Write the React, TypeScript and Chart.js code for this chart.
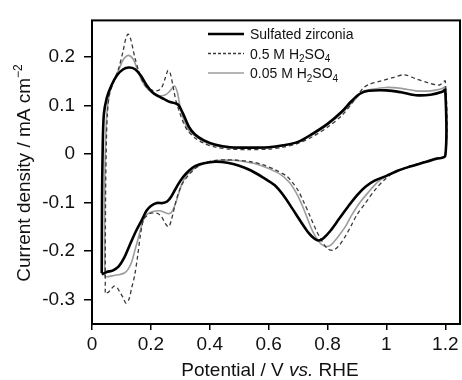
import React, { useEffect, useRef } from "react";
import { Chart, registerables } from "chart.js";

Chart.register(...registerables);

// ---- Data ----
const xTicks = [0, 0.2, 0.4, 0.6, 0.8, 1, 1.2];
const yTicks = [-0.3, -0.2, -0.1, 0, 0.1, 0.2];

const legendLabels = ["Sulfated zirconia", "0.5 M H2SO4", "0.05 M H2SO4"];

// Sulfated zirconia: anodic sweep then cathodic sweep
const szE = [
  0.033, 0.034, 0.036, 0.04, 0.05, 0.065, 0.085, 0.105, 0.125, 0.145, 0.165, 0.185, 0.205, 0.225, 0.245, 0.265,
  0.285, 0.295, 0.31, 0.33, 0.35, 0.38, 0.42, 0.47, 0.53, 0.6, 0.65, 0.7, 0.75, 0.8, 0.85, 0.88, 0.91, 0.94, 1.0,
  1.05, 1.1, 1.15, 1.19, 1.2,
  1.2, 1.17, 1.13, 1.08, 1.04, 1.0, 0.96, 0.93, 0.9, 0.87, 0.84, 0.81, 0.785, 0.77, 0.755, 0.735, 0.71, 0.68, 0.65,
  0.62, 0.58, 0.54, 0.5, 0.46, 0.42, 0.38, 0.35, 0.33, 0.31, 0.29, 0.27, 0.255, 0.24, 0.22, 0.2, 0.185, 0.17, 0.15,
  0.13, 0.11, 0.09, 0.07, 0.05, 0.033,
];
const szI = [
  -0.245, -0.1, 0.0, 0.08, 0.115, 0.14, 0.162, 0.174, 0.178, 0.175, 0.162, 0.142, 0.127, 0.119, 0.113, 0.107,
  0.104, 0.1, 0.082, 0.055, 0.04, 0.028, 0.019, 0.014, 0.013, 0.014, 0.018, 0.025, 0.042, 0.062, 0.088, 0.108,
  0.124, 0.13, 0.131, 0.127, 0.121, 0.122, 0.128, 0.132,
  -0.004, -0.01, -0.017, -0.026, -0.034, -0.045, -0.055, -0.067, -0.085, -0.108, -0.133, -0.158, -0.174, -0.178,
  -0.174, -0.162, -0.14, -0.112, -0.085, -0.064, -0.048, -0.034, -0.024, -0.018, -0.016, -0.019, -0.025, -0.034,
  -0.047, -0.065, -0.087, -0.098, -0.101, -0.101, -0.107, -0.117, -0.135, -0.158, -0.185, -0.213, -0.232, -0.24,
  -0.243, -0.248,
];

// 0.5 M H2SO4
const h05E = [
  0.045, 0.046, 0.048, 0.052, 0.06, 0.075, 0.09, 0.105, 0.115, 0.123, 0.132, 0.145, 0.158, 0.172, 0.185, 0.2, 0.22,
  0.235, 0.248, 0.258, 0.265, 0.275, 0.285, 0.298, 0.31, 0.325, 0.35, 0.38, 0.42, 0.47, 0.53, 0.6, 0.65, 0.7, 0.75,
  0.8, 0.85, 0.89, 0.92, 0.94, 0.98, 1.02, 1.06, 1.1, 1.14, 1.18, 1.2,
  1.2, 1.16, 1.12, 1.08, 1.04, 1.02, 0.99, 0.96, 0.93, 0.9, 0.88, 0.86, 0.84, 0.82, 0.8, 0.78, 0.76, 0.74, 0.72,
  0.7, 0.68, 0.66, 0.62, 0.58, 0.54, 0.5, 0.46, 0.42, 0.38, 0.35, 0.33, 0.31, 0.295, 0.282, 0.27, 0.26, 0.248,
  0.235, 0.22, 0.2, 0.185, 0.175, 0.165, 0.155, 0.145, 0.135, 0.125, 0.115, 0.105, 0.095, 0.085, 0.075, 0.065,
  0.055, 0.045,
];
const h05I = [
  -0.285, -0.1, 0.0, 0.08, 0.125, 0.15, 0.175, 0.21, 0.238, 0.247, 0.235, 0.2, 0.172, 0.15, 0.138, 0.132, 0.13,
  0.135, 0.155, 0.172, 0.168, 0.14, 0.11, 0.085, 0.065, 0.048, 0.033, 0.022, 0.014, 0.01, 0.009, 0.01, 0.014,
  0.022, 0.036, 0.055, 0.08, 0.11, 0.135, 0.143, 0.15, 0.157, 0.163, 0.155, 0.147, 0.142, 0.15,
  -0.002, -0.01, -0.018, -0.025, -0.034, -0.04, -0.055, -0.075, -0.1, -0.125, -0.148, -0.17, -0.188, -0.198,
  -0.195, -0.178, -0.155, -0.127, -0.1, -0.075, -0.058, -0.045, -0.032, -0.022, -0.016, -0.013, -0.012, -0.013,
  -0.019, -0.03, -0.042, -0.058, -0.078, -0.105, -0.135, -0.15, -0.142, -0.128, -0.122, -0.122, -0.128, -0.135,
  -0.165, -0.21, -0.25, -0.275, -0.3, -0.307, -0.295, -0.285, -0.275, -0.272, -0.278, -0.285, -0.285,
];

// 0.05 M H2SO4
const h005E = [
  0.043, 0.043, 0.045, 0.05, 0.058, 0.07, 0.09, 0.105, 0.123, 0.14, 0.155, 0.17, 0.19, 0.21, 0.23, 0.25, 0.265,
  0.28, 0.29, 0.3, 0.315, 0.33, 0.355, 0.38, 0.42, 0.47, 0.53, 0.6, 0.65, 0.7, 0.75, 0.8, 0.85, 0.89, 0.92, 0.95,
  1.0, 1.05, 1.1, 1.15, 1.19, 1.2,
  1.2, 1.16, 1.12, 1.08, 1.04, 1.0, 0.97, 0.94, 0.91, 0.88, 0.86, 0.83, 0.81, 0.79, 0.77, 0.75, 0.73, 0.71, 0.69,
  0.67, 0.64, 0.6, 0.56, 0.52, 0.48, 0.44, 0.4, 0.37, 0.34, 0.32, 0.305, 0.29, 0.28, 0.27, 0.26, 0.245, 0.23,
  0.21, 0.19, 0.175, 0.165, 0.155, 0.145, 0.135, 0.123, 0.11, 0.095, 0.075, 0.06, 0.043,
];
const h005I = [
  -0.253, -0.1, 0.0, 0.08, 0.12, 0.145, 0.172, 0.193, 0.203, 0.195, 0.172, 0.15, 0.133, 0.125, 0.12, 0.122, 0.13,
  0.14, 0.127, 0.095, 0.065, 0.048, 0.035, 0.025, 0.017, 0.013, 0.012, 0.013, 0.017, 0.025, 0.04, 0.06, 0.085,
  0.11, 0.128, 0.133, 0.137, 0.135, 0.13, 0.13, 0.135, 0.138,
  -0.003, -0.01, -0.018, -0.026, -0.035, -0.046, -0.058, -0.078, -0.1, -0.128, -0.15, -0.175, -0.188, -0.19,
  -0.18, -0.16, -0.13, -0.1, -0.076, -0.058, -0.042, -0.03, -0.021, -0.016, -0.013, -0.013, -0.016, -0.022,
  -0.033, -0.045, -0.062, -0.09, -0.108, -0.12, -0.123, -0.12, -0.117, -0.118, -0.123, -0.135, -0.155, -0.178,
  -0.2, -0.222, -0.237, -0.245, -0.248, -0.25, -0.252, -0.253,
];

const FONT = '"Liberation Sans", Arial, Helvetica, sans-serif';
const TEXT = "#111";

type Seg = { t: string; size: number; dy?: number; italic?: boolean };

function segWidth(ctx: CanvasRenderingContext2D, segs: Seg[]) {
  let w = 0;
  for (const s of segs) {
    ctx.font = `${s.italic ? "italic " : ""}${s.size}px ${FONT}`;
    w += ctx.measureText(s.t).width;
  }
  return w;
}

function drawSegs(ctx: CanvasRenderingContext2D, segs: Seg[], x: number, y: number) {
  let cx = x;
  ctx.textAlign = "left";
  ctx.textBaseline = "alphabetic";
  for (const s of segs) {
    ctx.font = `${s.italic ? "italic " : ""}${s.size}px ${FONT}`;
    ctx.fillText(s.t, cx, y + (s.dy || 0));
    cx += ctx.measureText(s.t).width;
  }
}

function labelSegs(label: string): Seg[] {
  // renders H2SO4 with subscripts
  const m = label.match(/^(.*H)2SO4$/);
  if (!m) return [{ t: label, size: 14 }];
  return [
    { t: m[1], size: 14 },
    { t: "2", size: 10, dy: 3.5 },
    { t: "SO", size: 14 },
    { t: "4", size: 10, dy: 3.5 },
  ];
}

const styles = [
  { color: "#000000", width: 2.6, dash: [] as number[], legendDash: [] as number[] },
  { color: "#3a3a3a", width: 1.3, dash: [4, 3], legendDash: [3, 2] },
  { color: "#9c9c9c", width: 1.6, dash: [] as number[], legendDash: [] as number[] },
];

const decor = {
  id: "decor",
  afterDraw(chart: any) {
    const { ctx, chartArea: a } = chart;
    ctx.save();
    // frame
    ctx.strokeStyle = "#000";
    ctx.lineWidth = 2;
    ctx.setLineDash([]);
    ctx.strokeRect(a.left, a.top, a.right - a.left, a.bottom - a.top);

    // legend
    const rows = [34, 53.5, 73];
    legendLabels.forEach((lab, i) => {
      const st = styles[i];
      ctx.strokeStyle = st.color;
      ctx.lineWidth = st.width;
      ctx.setLineDash(st.legendDash);
      ctx.beginPath();
      ctx.moveTo(208, rows[i]);
      ctx.lineTo(244, rows[i]);
      ctx.stroke();
      ctx.setLineDash([]);
      ctx.fillStyle = TEXT;
      drawSegs(ctx, labelSegs(lab), 250, rows[i] + 5);
    });

    // x title
    const xs: Seg[] = [
      { t: "Potential / V ", size: 19 },
      { t: "vs.", size: 19, italic: true },
      { t: " RHE", size: 19 },
    ];
    const xw = segWidth(ctx, xs);
    ctx.fillStyle = TEXT;
    drawSegs(ctx, xs, 270 - xw / 2, 376);

    // y title (rotated)
    const ys: Seg[] = [
      { t: "Current density / mA cm", size: 19 },
      { t: "\u22122", size: 12, dy: -8 },
    ];
    const yw = segWidth(ctx, ys);
    ctx.translate(30, 173);
    ctx.rotate(-Math.PI / 2);
    drawSegs(ctx, ys, -yw / 2, 0);
    ctx.restore();
  },
};

function fmt(v: number) {
  const r = Math.round(v * 10) / 10;
  return r === 0 ? "0" : String(r);
}

export default function App() {
  const ref = useRef<HTMLCanvasElement | null>(null);

  useEffect(() => {
    if (!ref.current) return;
    const mk = (E: number[], I: number[]) => E.map((e, i) => ({ x: e, y: I[i] }));
    const series = [mk(szE, szI), mk(h05E, h05I), mk(h005E, h005I)];
    const chart = new Chart(ref.current, {
      type: "scatter",
      data: {
        datasets: series.map((d, i) => ({
          label: legendLabels[i],
          data: d,
          showLine: true,
          borderColor: styles[i].color,
          borderWidth: styles[i].width,
          borderDash: styles[i].dash,
          pointRadius: 0,
          pointHoverRadius: 0,
          tension: 0.3,
          fill: false,
        })),
      },
      options: {
        animation: false,
        responsive: false,
        maintainAspectRatio: false,
        events: [],
        layout: { padding: { left: 0, right: 2, top: 12, bottom: 0 } },
        plugins: { legend: { display: false }, tooltip: { enabled: false }, title: { display: false } },
        scales: {
          x: {
            type: "linear",
            min: 0,
            max: 1.25,
            afterBuildTicks: (s: any) => {
              s.ticks = xTicks.map((v) => ({ value: v }));
            },
            afterFit: (s: any) => {
              s.height = 56;
            },
            grid: { display: true, drawOnChartArea: false, drawTicks: true, tickLength: 6, color: "#000", lineWidth: 1.5 },
            border: { display: false },
            ticks: { color: TEXT, font: { family: FONT, size: 19 }, padding: 3, maxRotation: 0, callback: (v: any) => fmt(Number(v)) },
          },
          y: {
            type: "linear",
            min: -0.35,
            max: 0.275,
            afterBuildTicks: (s: any) => {
              s.ticks = yTicks.map((v) => ({ value: v }));
            },
            afterFit: (s: any) => {
              s.width = 92;
            },
            grid: { display: true, drawOnChartArea: false, drawTicks: true, tickLength: 8, color: "#000", lineWidth: 1.5 },
            border: { display: false },
            ticks: { color: TEXT, font: { family: FONT, size: 19 }, padding: 9, callback: (v: any) => fmt(Number(v)) },
          },
        },
      },
      plugins: [decor],
    });
    return () => chart.destroy();
  }, []);

  return (
    <div style={{ position: "fixed", left: 0, top: 0, width: 462, height: 380, background: "#fff" }}>
      <canvas ref={ref} width={462} height={380} style={{ width: 462, height: 380, display: "block" }} />
    </div>
  );
}
